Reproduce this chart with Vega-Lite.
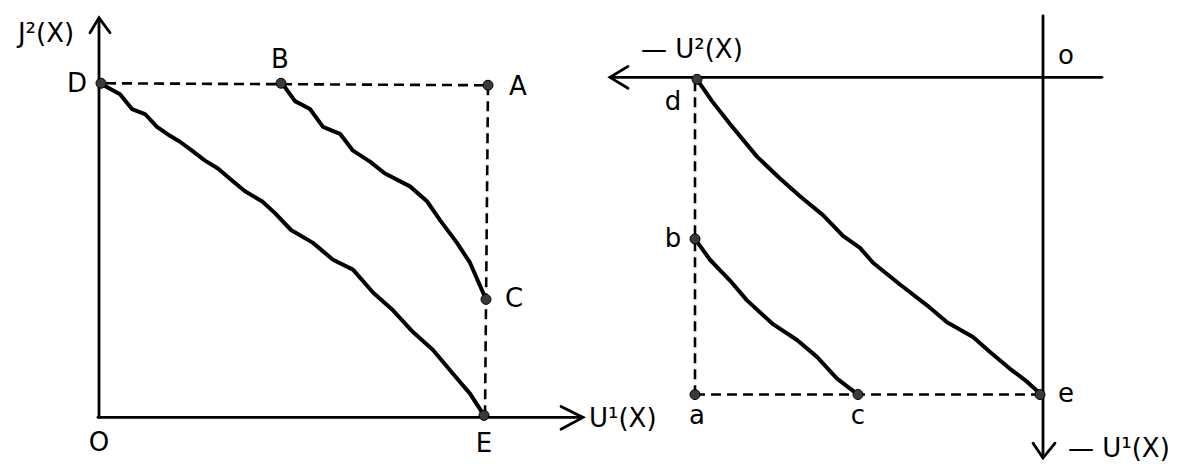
{
  "$schema": "https://vega.github.io/schema/vega-lite/v6.json",
  "width": 1186,
  "height": 464,
  "autosize": {"type": "fit", "contains": "padding"},
  "padding": 0,
  "background": "white",
  "config": {"view": {"stroke": null}},
  "datasets": {
    "curves": [
      {"s": "DE", "o": 0, "x": 100, "y": 84},
      {"s": "DE", "o": 1, "x": 120, "y": 95},
      {"s": "DE", "o": 2, "x": 132, "y": 110},
      {"s": "DE", "o": 3, "x": 145, "y": 115},
      {"s": "DE", "o": 4, "x": 157, "y": 128},
      {"s": "DE", "o": 5, "x": 170, "y": 137},
      {"s": "DE", "o": 6, "x": 180, "y": 143},
      {"s": "DE", "o": 7, "x": 192, "y": 152},
      {"s": "DE", "o": 8, "x": 205, "y": 162},
      {"s": "DE", "o": 9, "x": 218, "y": 170},
      {"s": "DE", "o": 10, "x": 232, "y": 182},
      {"s": "DE", "o": 11, "x": 245, "y": 193},
      {"s": "DE", "o": 12, "x": 262, "y": 203},
      {"s": "DE", "o": 13, "x": 275, "y": 215},
      {"s": "DE", "o": 14, "x": 291, "y": 232},
      {"s": "DE", "o": 15, "x": 313, "y": 245},
      {"s": "DE", "o": 16, "x": 333, "y": 262},
      {"s": "DE", "o": 17, "x": 353, "y": 272},
      {"s": "DE", "o": 18, "x": 373, "y": 295},
      {"s": "DE", "o": 19, "x": 393, "y": 313},
      {"s": "DE", "o": 20, "x": 413, "y": 335},
      {"s": "DE", "o": 21, "x": 433, "y": 353},
      {"s": "DE", "o": 22, "x": 453, "y": 377},
      {"s": "DE", "o": 23, "x": 470, "y": 397},
      {"s": "DE", "o": 24, "x": 484, "y": 419},
      {"s": "BC", "o": 0, "x": 282, "y": 84},
      {"s": "BC", "o": 1, "x": 295, "y": 102},
      {"s": "BC", "o": 2, "x": 310, "y": 110},
      {"s": "BC", "o": 3, "x": 323, "y": 128},
      {"s": "BC", "o": 4, "x": 340, "y": 135},
      {"s": "BC", "o": 5, "x": 353, "y": 152},
      {"s": "BC", "o": 6, "x": 370, "y": 163},
      {"s": "BC", "o": 7, "x": 385, "y": 175},
      {"s": "BC", "o": 8, "x": 410, "y": 188},
      {"s": "BC", "o": 9, "x": 427, "y": 203},
      {"s": "BC", "o": 10, "x": 440, "y": 222},
      {"s": "BC", "o": 11, "x": 457, "y": 245},
      {"s": "BC", "o": 12, "x": 470, "y": 265},
      {"s": "BC", "o": 13, "x": 483, "y": 295},
      {"s": "BC", "o": 14, "x": 486, "y": 302},
      {"s": "de", "o": 0, "x": 697, "y": 80},
      {"s": "de", "o": 1, "x": 712, "y": 102},
      {"s": "de", "o": 2, "x": 730, "y": 125},
      {"s": "de", "o": 3, "x": 757, "y": 158},
      {"s": "de", "o": 4, "x": 780, "y": 180},
      {"s": "de", "o": 5, "x": 800, "y": 198},
      {"s": "de", "o": 6, "x": 823, "y": 217},
      {"s": "de", "o": 7, "x": 843, "y": 238},
      {"s": "de", "o": 8, "x": 860, "y": 250},
      {"s": "de", "o": 9, "x": 873, "y": 265},
      {"s": "de", "o": 10, "x": 900, "y": 287},
      {"s": "de", "o": 11, "x": 927, "y": 308},
      {"s": "de", "o": 12, "x": 947, "y": 325},
      {"s": "de", "o": 13, "x": 973, "y": 340},
      {"s": "de", "o": 14, "x": 990, "y": 355},
      {"s": "de", "o": 15, "x": 1010, "y": 372},
      {"s": "de", "o": 16, "x": 1027, "y": 385},
      {"s": "de", "o": 17, "x": 1040, "y": 397},
      {"s": "bc", "o": 0, "x": 695, "y": 241},
      {"s": "bc", "o": 1, "x": 710, "y": 262},
      {"s": "bc", "o": 2, "x": 730, "y": 283},
      {"s": "bc", "o": 3, "x": 747, "y": 303},
      {"s": "bc", "o": 4, "x": 773, "y": 327},
      {"s": "bc", "o": 5, "x": 797, "y": 343},
      {"s": "bc", "o": 6, "x": 817, "y": 360},
      {"s": "bc", "o": 7, "x": 837, "y": 382},
      {"s": "bc", "o": 8, "x": 858, "y": 398}
    ],
    "axes": [
      {"s": "U1", "o": 0, "x": 98, "y": 421},
      {"s": "U1", "o": 1, "x": 582, "y": 421},
      {"s": "U2", "o": 0, "x": 99, "y": 421},
      {"s": "U2", "o": 1, "x": 99, "y": 19},
      {"s": "U1 head", "o": 0, "x": 561, "y": 410},
      {"s": "U1 head", "o": 1, "x": 583, "y": 421},
      {"s": "U1 head", "o": 2, "x": 561, "y": 433},
      {"s": "U2 head", "o": 0, "x": 90, "y": 33},
      {"s": "U2 head", "o": 1, "x": 99, "y": 18},
      {"s": "U2 head", "o": 2, "x": 110, "y": 33},
      {"s": "-U2", "o": 0, "x": 611, "y": 78},
      {"s": "-U2", "o": 1, "x": 1102, "y": 78},
      {"s": "-U2 head", "o": 0, "x": 628, "y": 67},
      {"s": "-U2 head", "o": 1, "x": 610, "y": 78},
      {"s": "-U2 head", "o": 2, "x": 628, "y": 89},
      {"s": "-U1", "o": 0, "x": 1043, "y": 16},
      {"s": "-U1", "o": 1, "x": 1043, "y": 461},
      {"s": "-U1 head", "o": 0, "x": 1033, "y": 447},
      {"s": "-U1 head", "o": 1, "x": 1043, "y": 462},
      {"s": "-U1 head", "o": 2, "x": 1055, "y": 447}
    ],
    "dashed": [
      {"s": "DA", "o": 0, "x": 106, "y": 84},
      {"s": "DA", "o": 1, "x": 488, "y": 86},
      {"s": "AE", "o": 0, "x": 488, "y": 86},
      {"s": "AE", "o": 1, "x": 485, "y": 419},
      {"s": "da", "o": 0, "x": 695, "y": 82},
      {"s": "da", "o": 1, "x": 695, "y": 398},
      {"s": "ae", "o": 0, "x": 695, "y": 398},
      {"s": "ae", "o": 1, "x": 1040, "y": 398}
    ],
    "points": [
      {"p": "D", "x": 101, "y": 84},
      {"p": "B", "x": 281, "y": 84},
      {"p": "A", "x": 488, "y": 86},
      {"p": "C", "x": 486, "y": 302},
      {"p": "E", "x": 484, "y": 419},
      {"p": "d", "x": 697, "y": 80},
      {"p": "b", "x": 695, "y": 241},
      {"p": "a", "x": 695, "y": 398},
      {"p": "c", "x": 858, "y": 398},
      {"p": "e", "x": 1040, "y": 398}
    ],
    "labels": [
      {"t": "J²(X)", "x": 46, "y": 34},
      {"t": "D", "x": 77, "y": 85},
      {"t": "B", "x": 280, "y": 61},
      {"t": "A", "x": 518, "y": 88},
      {"t": "C", "x": 514, "y": 302},
      {"t": "O", "x": 99, "y": 447},
      {"t": "E", "x": 484, "y": 448},
      {"t": "o", "x": 1066, "y": 56},
      {"t": "d", "x": 673, "y": 103},
      {"t": "b", "x": 673, "y": 241},
      {"t": "a", "x": 697, "y": 420},
      {"t": "c", "x": 858, "y": 420},
      {"t": "e", "x": 1066, "y": 397}
    ],
    "axisLabels": [
      {"t": "U¹(X)", "x": 589, "y": 423},
      {"t": "— U²(X)", "x": 641, "y": 50},
      {"t": "— U¹(X)", "x": 1068, "y": 453}
    ]
  },
  "encoding": {
    "x": {"field": "x", "type": "quantitative", "scale": {"domain": [0, 1186], "nice": false, "zero": false}, "axis": null},
    "y": {"field": "y", "type": "quantitative", "scale": {"domain": [0, 464], "nice": false, "zero": false, "reverse": true}, "axis": null}
  },
  "layer": [
    {
      "data": {"name": "axes"},
      "mark": {"type": "line", "color": "black", "strokeWidth": 2.8, "strokeCap": "round", "strokeJoin": "miter"},
      "encoding": {"detail": {"field": "s"}, "order": {"field": "o"}}
    },
    {
      "data": {"name": "dashed"},
      "mark": {"type": "line", "color": "black", "strokeWidth": 2.6, "strokeDash": [10, 6]},
      "encoding": {"detail": {"field": "s"}, "order": {"field": "o"}}
    },
    {
      "data": {"name": "curves"},
      "mark": {"type": "line", "color": "black", "strokeWidth": 4, "interpolate": "linear", "strokeJoin": "round", "strokeCap": "round"},
      "encoding": {"detail": {"field": "s"}, "order": {"field": "o"}}
    },
    {
      "data": {"name": "points"},
      "mark": {"type": "point", "shape": "circle", "filled": true, "size": 100, "color": "#3a3a3a", "stroke": "black", "strokeWidth": 1, "opacity": 1}
    },
    {
      "data": {"name": "labels"},
      "mark": {"type": "text", "font": "DejaVu Sans", "fontSize": 26, "color": "black", "baseline": "middle", "align": "center"},
      "encoding": {"text": {"field": "t"}}
    },
    {
      "data": {"name": "axisLabels"},
      "mark": {"type": "text", "font": "DejaVu Sans", "fontSize": 26, "color": "black", "baseline": "middle", "align": "left"},
      "encoding": {"text": {"field": "t"}}
    }
  ]
}
